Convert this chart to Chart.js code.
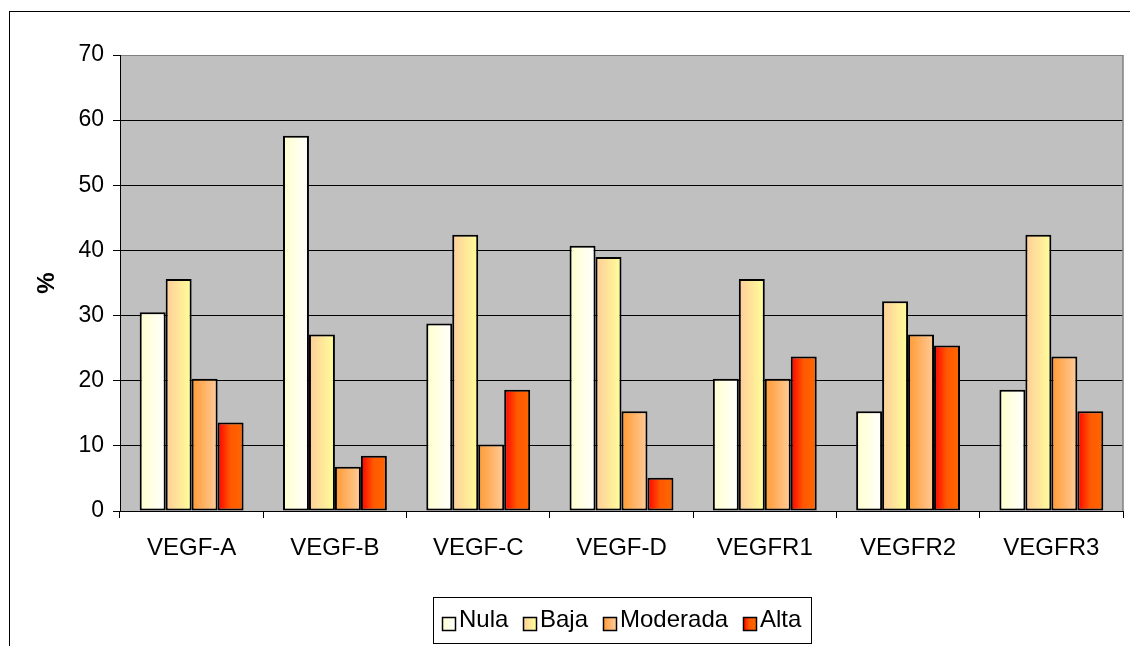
<!DOCTYPE html>
<html><head><meta charset="utf-8">
<script src="https://cdn.jsdelivr.net/npm/chart.js@4/dist/chart.umd.min.js"></script>
<style>html,body{margin:0;padding:0;background:#fff;}</style>
</head><body>
<canvas id="c" width="1130" height="646"></canvas>
<script>
const categories = ['VEGF-A','VEGF-B','VEGF-C','VEGF-D','VEGFR1','VEGFR2','VEGFR3'];
const seriesNames = ['Nula','Baja','Moderada','Alta'];
const nula     = [30.5, 57.6, 28.8, 40.7, 20.3, 15.3, 18.6];
const baja     = [35.6, 27.1, 42.4, 39.0, 35.6, 32.2, 42.4];
const moderada = [20.3,  6.8, 10.2, 15.3, 20.3, 27.1, 23.7];
const alta     = [13.6,  8.5, 18.6,  5.1, 23.7, 25.4, 15.3];
const yMin = 0, yMax = 70, yStep = 10;
const yTitle = '%';

const FONT = '"Liberation Sans", Arial, sans-serif';
const gradStops = [
  [[0,'#FFFFCC'],[1,'#FFFFFF']],
  [[0,'#FFCC99'],[1,'#FFFF99']],
  [[0,'#FF9933'],[1,'#FFCC99']],
  [[0,'#FF0000'],[0.5,'#FF5A00'],[1,'#FF6600']]
];
const solid = ['#FFFFE6','#FFE699','#FFB366','#FF3300'];

function makeGrad(ctx, x0, x1, stops){
  const g = ctx.createLinearGradient(x0, 0, x1, 0);
  stops.forEach(s => g.addColorStop(s[0], s[1]));
  return g;
}

const decor = {
  id: 'decor',
  beforeDraw(chart){
    const {ctx, chartArea: a} = chart;
    ctx.save();
    ctx.fillStyle = '#fff';
    ctx.fillRect(0,0,chart.width,chart.height);
    ctx.strokeStyle = '#000'; ctx.lineWidth = 1;
    ctx.strokeRect(9.5, 11.5, 1200, 700);
    ctx.fillStyle = '#C0C0C0';
    ctx.fillRect(a.left, a.top, a.right - a.left, a.bottom - a.top);
    ctx.restore();
  },
  beforeDatasetsDraw(chart){
    const {ctx, chartArea: a} = chart;
    ctx.save();
    ctx.strokeStyle = '#808080'; ctx.lineWidth = 1.5;
    ctx.beginPath(); ctx.moveTo(a.right, a.top); ctx.lineTo(a.right, a.bottom); ctx.stroke();
    ctx.restore();
    chart.data.datasets.forEach((ds, di) => {
      const meta = chart.getDatasetMeta(di);
      meta.data.forEach(el => {
        const p = el.getProps(['x','width'], true);
        const g = makeGrad(ctx, p.x - p.width/2, p.x + p.width/2, gradStops[di]);
        el.options = Object.assign({}, el.options, {backgroundColor: g});
      });
    });
  },
  afterDraw(chart){
    const {ctx, chartArea: a} = chart;
    ctx.save();
    ctx.font = '24px ' + FONT;
    const box = 13, gapBT = 4, gapItems = 15, pad = 9;
    const labels = chart.data.datasets.map(d => d.label);
    const tw = labels.map(l => ctx.measureText(l).width);
    let total = 0;
    tw.forEach((w,i) => { total += box + gapBT + w + (i ? gapItems : 0); });
    const cx = (a.left + a.right) / 2;
    let x = cx - total/2;
    const top = 597, h = 46;
    ctx.strokeStyle = '#000'; ctx.lineWidth = 1;
    ctx.fillStyle = '#fff';
    ctx.fillRect(Math.round(x - pad) + 0.5, top + 0.5, Math.round(total + 2*pad), h);
    ctx.strokeRect(Math.round(x - pad) + 0.5, top + 0.5, Math.round(total + 2*pad), h);
    labels.forEach((l, i) => {
      const bx = Math.round(x), by = 617;
      ctx.fillStyle = makeGrad(ctx, bx, bx + box, gradStops[i]);
      ctx.fillRect(bx + 0.5, by + 0.5, box, box);
      ctx.lineWidth = 1.5; ctx.strokeStyle = '#000';
      ctx.strokeRect(bx + 0.5, by + 0.5, box, box);
      ctx.fillStyle = '#000';
      ctx.textBaseline = 'alphabetic'; ctx.textAlign = 'left';
      ctx.fillText(l, bx + box + gapBT, 627);
      x += box + gapBT + tw[i] + gapItems;
    });
    ctx.restore();
  }
};

const seriesData = [nula, baja, moderada, alta];
new Chart(document.getElementById('c'), {
  type: 'bar',
  data: {
    labels: categories,
    datasets: seriesNames.map((n, i) => ({
      label: n,
      data: seriesData[i],
      backgroundColor: solid[i],
      borderColor: '#000',
      borderWidth: 2,
      borderSkipped: false,
      categoryPercentage: 0.725,
      barPercentage: 1.0
    }))
  },
  options: {
    responsive: false,
    animation: false,
    events: [],
    layout: { padding: { left: 0, top: 55, right: 7, bottom: 0 } },
    plugins: { legend: { display: false }, tooltip: { enabled: false }, title: { display: false } },
    scales: {
      x: {
        afterFit: s => { s.height = 135; },
        grid: { display: true, drawOnChartArea: false, drawTicks: true, tickLength: 7, offset: true, color: '#000', tickColor: '#000' },
        border: { display: true, color: '#000', width: 1 },
        ticks: { color: '#000', font: { family: FONT, size: 24 }, padding: 16, maxRotation: 0, autoSkip: false }
      },
      y: {
        min: yMin, max: yMax,
        afterFit: s => { s.width = 120; },
        grid: {
          color: c => (c.tick && c.tick.value === yMax) ? '#808080' : '#000',
          tickColor: '#000', tickLength: 7, lineWidth: 1
        },
        border: { display: true, color: '#000', width: 1 },
        ticks: { stepSize: yStep, color: '#000', font: { family: FONT, size: 23 }, padding: 9 },
        title: { display: true, text: yTitle, color: '#000', font: { family: FONT, size: 24, weight: 'bold' }, padding: { top: 33, bottom: 0 } }
      }
    }
  },
  plugins: [decor]
});
</script>
</body></html>
